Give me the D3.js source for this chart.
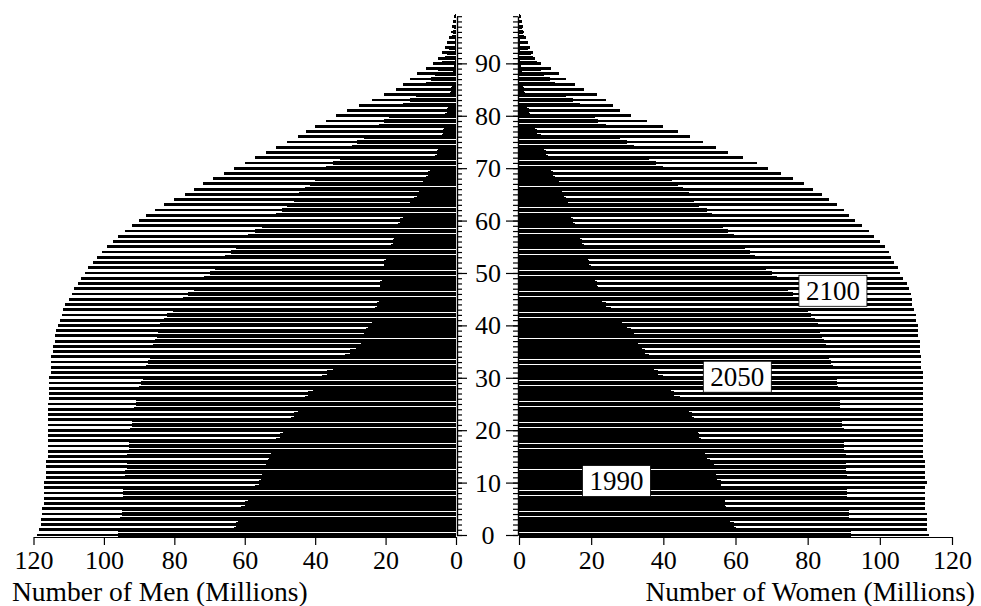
<!DOCTYPE html>
<html>
<head>
<meta charset="utf-8">
<script src="https://cdn.jsdelivr.net/npm/d3@7"></script>
<style>
  body { margin: 0; background: #fff; }
</style>
</head>
<body>
<div id="pyramid"></div>
<script>
// single-year ages 0..99
var ages = d3.range(0, 100);

// men, millions
var men1990 = [63,63,62.5,62,61.5,61,60,59,58,57,56,55.5,55,54,53.5,53,52.5,52,51,50,
  49,48,47,46,45,44,43,42,40.5,39,38,36.5,35,33,31.5,30,28.5,27,26,25.5,
  25,24,23.5,23,22.5,22,22,21.5,21.5,21,21,20.5,20.5,20,19,18.5,18,17.5,17,16.5,
  16,15,14,13,12,11,10.5,9.5,8.5,8,7.5,7,6,5.5,5,4.5,4,3.8,3.5,3.2,
  3,2.6,2.3,2,1.7,1.5,1.2,1,0.8,0.6,0.5,0.4,0.3,0.3,0.2,0.2,0.1,0.1,0.1,0.1];
var men2050 = [96,96,95.5,95.5,95,95,95,94.5,94.5,94.5,94,94,94,93.5,93.5,93.5,93,93,93,92.5,
  92.5,92,92,91.5,91.5,91,91,90.5,90,89.5,89,88.5,88,87.5,87,86.5,86,85.5,85,84.5,
  84,83,82,80.5,79,77.5,76,74.5,73,71.5,70,68.5,67,65.5,64,62.5,61,59,57,55,
  53,51,49.5,48,46,44.5,43,41.5,40,38.5,37,35,33,31,29.5,28,26,24,22,20.5,
  19,17,15,13,11.5,10,8.5,7,6,5,4,3.2,2.5,2,1.5,1.2,0.9,0.6,0.4,0.3];
var men2100 = [119,118.5,118,118,117.5,117.5,117,117,117,117,117,116.5,116.5,116.5,116.5,116,116,116,116,116,
  116,116,116,116,116,116,115.5,115.5,115.5,115.5,115.5,115,115,115,115,114.5,114.5,114,114,113.5,
  113,112.5,112,111.5,111,110,109,108.5,107.5,106.5,105.5,104.5,103,102,100.5,99,97.5,96,94,92,
  90,88,85.5,83,80,77,74.5,72,69,66,63,60,57,54,51,48,45,42.5,40,37,
  34,31,27.5,24,20.5,17,15,13,11,8.5,6.5,5,4,3,2.5,2,1.5,1,0.8,0.5];

// women, millions
var women1990 = [60,60,59.5,58.5,58,57.5,57,57,56.5,56,56,55,54.5,54,53,52,51.5,51,50.5,50,
  49.5,49,48.5,48,47,46,44.5,43,42,41,40,38.5,37.5,37,36,35,34,33,32,31,
  30,28.5,27,25.5,24,23,22.5,22,21.5,21,20.5,20,19.5,19,18.5,18,17.5,17,16,15.5,
  15,14.5,14,13.5,13,12.5,12,11,10,9.5,9,8.5,8,7.5,7,6.5,6,5,4.5,3.5,
  3,2.7,2.3,2,1.6,1.3,1.1,0.9,0.7,0.6,0.5,0.4,0.3,0.3,0.2,0.2,0.1,0.1,0.1,0.1];
var women2050 = [92,92,92,91.5,91.5,91.5,91.5,91,91,91,91,91,90.5,90.5,90.5,90.5,90,90,90,90,
  90,89.5,89.5,89.5,89,89,89,88.5,88.5,88,88,87.5,87,86.5,86,85.5,85,84.5,84,83.5,
  83,82,81,80,79,77.5,76,74.5,73,71.5,70,68.5,67,65.5,64,62.5,61,59.5,58,56.5,
  55,53.5,52,50,48.5,47,45.5,44,42.5,41,40,38,36,34,32,30,28,26,24,22,
  21,19,17,15,13,11.5,10,8.5,7,6,5,4,3.2,2.5,2,1.5,1.1,0.8,0.5,0.3];
var women2100 = [113.5,113,113,113,113,112.5,112.5,112.5,112.5,112.5,113,112.5,112.5,112.5,112.5,112,112,112,112,112,
  112,112,112,112,112,112,112,112,112,112,112,112,111.5,111.5,111.5,111,111,111,110.5,110.5,
  110.5,110,110,109.5,109,109,108.5,108,107.5,106.5,105.5,105,104,103,102.5,101.5,100,98.5,97,95,
  93,91.5,90,88,86,84,81.5,79,76,72.5,69,66,62,58,54.5,51,47.5,44,40,35.5,
  31,28,26,24,21.5,18,15.5,13,11,9,6,4.5,4,3,2.5,2,1.5,1,0.8,0.5];

var years = ["2100", "2050", "1990"];
var menByYear = {"1990": men1990, "2050": men2050, "2100": men2100};
var womenByYear = {"1990": women1990, "2050": women2050, "2100": women2100};

var xTicks = [0, 20, 40, 60, 80, 100, 120];
var ageTicks = [0, 10, 20, 30, 40, 50, 60, 70, 80, 90];

// year tags sit on the women's side: value (millions) and age of the centre
var tagYears = ["2100", "2050", "1990"];
var tagValue = [87, 60.5, 27];
var tagAge = [46.6, 30.2, 10.3];

// line weight per year: thinner line = lighter hatch
var lineWeight = {"2100": 2.8, "2050": 3.8, "1990": 4.8};
var serif = "'Liberation Serif', 'Times New Roman', Times, 'DejaVu Serif', serif";

var width = 981, height = 606;

var svg = d3.select("#pyramid")
  .append("svg")
  .attr("width", width)
  .attr("height", height)
  .attr("font-family", serif)
  .style("font-family", serif);

svg.append("rect").attr("width", width).attr("height", height).attr("fill", "#fff");

var y = d3.scaleLinear().domain([0, 99]).range([535, 16.2]);
var xMen = d3.scaleLinear().domain([0, 120]).range([456, 33.5]);
var xWomen = d3.scaleLinear().domain([0, 120]).range([519, 952]);

// bars, one thin line per age and year
years.forEach(function(yr) {
  var t = lineWeight[yr];
  svg.append("g")
    .attr("shape-rendering", "crispEdges")
    .selectAll("rect")
    .data(ages)
    .join("rect")
    .attr("x", function(a) { return xMen(menByYear[yr][a]); })
    .attr("width", function(a) { return xMen(0) - xMen(menByYear[yr][a]); })
    .attr("y", function(a) { return y(a) - t / 2; })
    .attr("height", t)
    .attr("fill", "#000");

  svg.append("g")
    .attr("shape-rendering", "crispEdges")
    .selectAll("rect")
    .data(ages)
    .join("rect")
    .attr("x", xWomen(0))
    .attr("width", function(a) { return xWomen(womenByYear[yr][a]) - xWomen(0); })
    .attr("y", function(a) { return y(a) - t / 2; })
    .attr("height", t)
    .attr("fill", "#000");
});

// age axes: small tick every year, long tick every ten
function styleAxis(g) {
  g.selectAll("path, line").attr("stroke", "#000").attr("stroke-width", 1.2);
  g.selectAll("text").remove();
}
svg.append("g")
  .attr("transform", "translate(" + (xMen(0) + 1) + ",0)")
  .call(d3.axisRight(y).tickValues(ages).tickSize(5).tickSizeOuter(0))
  .call(styleAxis);
svg.append("g")
  .attr("transform", "translate(" + (xMen(0) + 1) + ",0)")
  .call(d3.axisRight(y).tickValues(ageTicks).tickSize(10).tickSizeOuter(0))
  .call(styleAxis);
svg.append("g")
  .attr("transform", "translate(" + (xWomen(0) - 1) + ",0)")
  .call(d3.axisLeft(y).tickValues(ages).tickSize(5).tickSizeOuter(0))
  .call(styleAxis);
svg.append("g")
  .attr("transform", "translate(" + (xWomen(0) - 1) + ",0)")
  .call(d3.axisLeft(y).tickValues(ageTicks).tickSize(12).tickSizeOuter(0))
  .call(styleAxis);

// age labels centred in the gap
svg.append("g")
  .selectAll("text")
  .data(ageTicks)
  .join("text")
  .attr("x", (xMen(0) + xWomen(0)) / 2 + 0.5)
  .attr("y", function(d) { return y(d); })
  .attr("dy", "0.35em")
  .attr("text-anchor", "middle")
  .style("font-family", serif)
  .style("font-size", "26px")
  .text(function(d) { return d; });

// bottom axes
function styleX(g) {
  g.attr("font-family", serif).attr("font-size", null);
  g.selectAll("path, line").attr("stroke", "#000").attr("stroke-width", 1.2);
  g.selectAll("text")
    .attr("fill", "#000")
    .style("font-family", serif)
    .style("font-size", "26px");
}
svg.append("g")
  .attr("transform", "translate(0,537)")
  .call(d3.axisBottom(xMen).tickValues(xTicks).tickSize(8).tickSizeOuter(0).tickPadding(6))
  .call(styleX);
svg.append("g")
  .attr("transform", "translate(0,537)")
  .call(d3.axisBottom(xWomen).tickValues(xTicks).tickSize(8).tickSizeOuter(0).tickPadding(6))
  .call(styleX);

svg.append("text")
  .attr("x", 12)
  .attr("y", 601)
  .style("font-family", serif)
  .style("font-size", "27.5px")
  .text("Number of Men (Millions)");
svg.append("text")
  .attr("x", 975)
  .attr("y", 601)
  .attr("text-anchor", "end")
  .style("font-family", serif)
  .style("font-size", "27.5px")
  .text("Number of Women (Millions)");

// year tags
tagYears.forEach(function(yr, i) {
  var g = svg.append("g");
  var txt = g.append("text")
    .attr("x", xWomen(tagValue[i]))
    .attr("y", y(tagAge[i]))
    .attr("dy", "0.35em")
    .attr("text-anchor", "middle")
    .style("font-family", serif)
    .style("font-size", "27px")
    .text(yr);
  var bb = txt.node().getBBox();
  g.insert("rect", "text")
    .attr("x", bb.x - 7)
    .attr("y", y(tagAge[i]) - 15.5)
    .attr("width", bb.width + 14)
    .attr("height", 31)
    .attr("fill", "#fff")
    .attr("stroke", "#000")
    .attr("stroke-width", 0.8);
});
</script>
</body>
</html>
